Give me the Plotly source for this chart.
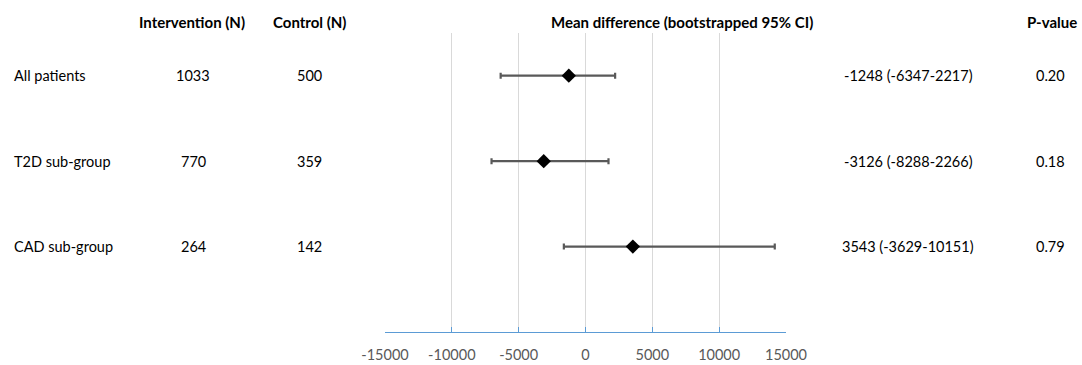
import plotly.graph_objects as go

groups = ["All patients", "T2D sub-group", "CAD sub-group"]
intervention_n = [1033, 770, 264]
control_n = [500, 359, 142]
mean_diff = [-1248, -3126, 3543]
bar_low = [-6347, -7030, -1620]
bar_high = [2217, 1720, 14160]
ci_labels = ["-1248 (-6347-2217)", "-3126 (-8288-2266)", "3543 (-3629-10151)"]
p_values = ["0.20", "0.18", "0.79"]
row_pos = [3, 2, 1]
x_ticks = [-15000, -10000, -5000, 0, 5000, 10000, 15000]

W, H = 1082, 365
L, R, T, B = 385, 786, 33, 332

fig = go.Figure()
fig.add_trace(go.Scatter(
    x=mean_diff, y=row_pos, mode="markers",
    marker=dict(symbol="diamond", size=11, color="black"),
    error_x=dict(type="data", symmetric=False,
                 array=[h - m for h, m in zip(bar_high, mean_diff)],
                 arrayminus=[m - l for m, l in zip(mean_diff, bar_low)],
                 color="#595959", thickness=2.2, width=3),
    showlegend=False, hoverinfo="skip"))

def px(xp):
    return (xp - L) / (R - L)

FAM = "Lato, Open Sans, sans-serif"
font_body = dict(family=FAM, size=14.5, color="black")
font_head = dict(family=FAM, size=15, color="black")

ann = []
head_y = 1 + (T - 22) / (B - T)
for text, xp in [("<b>Intervention (N)</b>", 192), ("<b>Control (N)</b>", 309),
                 ("<b>Mean difference (bootstrapped 95% CI)</b>", 682),
                 ("<b>P-value</b>", 1052)]:
    ann.append(dict(text=text, x=px(xp), y=head_y, xref="paper", yref="paper",
                    showarrow=False, xanchor="center", yanchor="middle", font=font_head))
for g, ni, nc, ci, p, yv in zip(groups, intervention_n, control_n, ci_labels, p_values, row_pos):
    ann.append(dict(text=g, x=px(12), y=yv, xref="paper", yref="y", showarrow=False,
                    xanchor="left", yanchor="middle", font=font_body))
    ann.append(dict(text=str(ni), x=px(193), y=yv, xref="paper", yref="y", showarrow=False,
                    xanchor="center", yanchor="middle", font=font_body))
    ann.append(dict(text=str(nc), x=px(309), y=yv, xref="paper", yref="y", showarrow=False,
                    xanchor="center", yanchor="middle", font=font_body))
    ann.append(dict(text=ci, x=px(908), y=yv, xref="paper", yref="y", showarrow=False,
                    xanchor="center", yanchor="middle", font=font_body))
    ann.append(dict(text=p, x=px(1050), y=yv, xref="paper", yref="y", showarrow=False,
                    xanchor="center", yanchor="middle", font=font_body))

fig.update_layout(
    width=W, height=H,
    margin=dict(l=L, r=W - R, t=T, b=H - B, pad=0, autoexpand=False),
    plot_bgcolor="white", paper_bgcolor="white",
    annotations=ann,
    xaxis=dict(range=[-15000, 15000], tickvals=x_ticks,
               ticktext=[str(v) for v in x_ticks],
               showgrid=True, gridcolor="#D9D9D9", gridwidth=1,
               zeroline=False, showline=True, linecolor="#5B9BD5", linewidth=1.3,
               ticks="inside", ticklen=5, tickcolor="#5B9BD5", tickwidth=1.3,
               ticklabelstandoff=9, automargin=False,
               tickfont=dict(family=FAM, size=14.5, color="#595959")),
    yaxis=dict(range=[0, 3.5], showgrid=False, zeroline=False, showticklabels=False,
               showline=False, ticks="", automargin=False),
)

fig.write_html("out.html", config={"displayModeBar": False},
               post_script="document.body.style.margin='0';document.body.style.padding='0';")
